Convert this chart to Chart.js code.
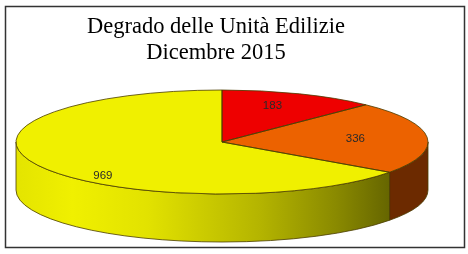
<!DOCTYPE html>
<html>
<head>
<meta charset="utf-8">
<script src="https://cdn.jsdelivr.net/npm/chart.js@4.4.1/dist/chart.umd.min.js"></script>
<style>
  html, body { margin: 0; padding: 0; background: #fff; }
  canvas { display: block; }
</style>
</head>
<body>
<canvas id="degradoChart" width="468" height="254"></canvas>
<script>
// values
const categories = ["Classe 1", "Classe 2", "Classe 3"];
const values = [183, 336, 969];
const titleLines = ["Degrado delle Unità Edilizie", "Dicembre 2015"];

// colours of the top face
const topColors = ["#ee0000", "#ec6200", "#f0f000"];

// where the flattened pie sits on the page
const PIE = { cx: 222, cy: 142, rx: 206, ry: 52, depth: 48 };

function sideFill(ctx, i) {
  if (i === 2) {
    // yellow wall gets lighter on the left, olive on the right
    const g = ctx.createLinearGradient(PIE.cx - PIE.rx, 0, 392, 0);
    g.addColorStop(0, "#e4e400");
    g.addColorStop(0.15, "#f0f000");
    g.addColorStop(0.35, "#e2e200");
    g.addColorStop(0.65, "#b4b400");
    g.addColorStop(0.85, "#8a8a00");
    g.addColorStop(1, "#646400");
    return g;
  }
  if (i === 1) return "#6c2a00";
  return "#7a0000";
}

const pie3d = {
  id: "pie3d",
  beforeDraw(chart) {
    const ctx = chart.ctx;
    ctx.save();
    ctx.fillStyle = "#fff";
    ctx.fillRect(0, 0, chart.width, chart.height);
    ctx.strokeStyle = "#333";
    ctx.lineWidth = 1.5;
    ctx.strokeRect(5.5, 6.5, 459, 241);
    ctx.restore();
  },
  beforeDatasetsDraw(chart) {
    const ctx = chart.ctx;
    const arcs = chart.getDatasetMeta(0).data;
    // side walls, only the front half (0..PI) shows
    ctx.save();
    arcs.forEach((arc, i) => {
      const s = Math.max(arc.startAngle, 0);
      const e = Math.min(arc.endAngle, Math.PI);
      if (e <= s) return;
      ctx.beginPath();
      ctx.ellipse(PIE.cx, PIE.cy, PIE.rx, PIE.ry, 0, s, e);
      ctx.ellipse(PIE.cx, PIE.cy + PIE.depth, PIE.rx, PIE.ry, 0, e, s, true);
      ctx.closePath();
      ctx.fillStyle = sideFill(ctx, i);
      ctx.fill();
      ctx.strokeStyle = "#4a3c00";
      ctx.lineWidth = 0.8;
      ctx.stroke();
    });
    ctx.restore();

    // squash the library's round pie into the ellipse of the top face
    const a = arcs[0];
    ctx.save();
    ctx.translate(PIE.cx, PIE.cy);
    ctx.scale(PIE.rx / a.outerRadius, PIE.ry / a.outerRadius);
    ctx.translate(-a.x, -a.y);
  },
  afterDatasetsDraw(chart) {
    const ctx = chart.ctx;
    ctx.restore();
    const arcs = chart.getDatasetMeta(0).data;
    ctx.save();
    ctx.strokeStyle = "#4a3c00";
    ctx.lineWidth = 0.8;
    arcs.forEach((arc) => {
      ctx.beginPath();
      ctx.moveTo(PIE.cx, PIE.cy);
      ctx.ellipse(PIE.cx, PIE.cy, PIE.rx, PIE.ry, 0, arc.startAngle, arc.endAngle);
      ctx.closePath();
      ctx.stroke();
    });
    // value labels
    ctx.font = "11.5px 'Liberation Sans', Arial, sans-serif";
    ctx.fillStyle = "#2a2a2a";
    ctx.textAlign = "center";
    ctx.textBaseline = "middle";
    arcs.forEach((arc, i) => {
      const mid = (arc.startAngle + arc.endAngle) / 2;
      const sin = Math.sin(mid);
      const x = PIE.cx + 0.65 * PIE.rx * Math.cos(mid);
      const y = PIE.cy + 0.75 * PIE.ry * sin + Math.max(0, sin) * PIE.depth * 0.75;
      ctx.fillText(String(values[i]), x, y);
    });
    ctx.restore();
  }
};

const ctx = document.getElementById("degradoChart").getContext("2d");
new Chart(ctx, {
  type: "pie",
  data: {
    labels: categories,
    datasets: [{
      data: values,
      backgroundColor: topColors,
      borderWidth: 0,
      clip: false
    }]
  },
  options: {
    responsive: false,
    animation: false,
    layout: { padding: { top: 8, right: 36, left: 0, bottom: 0 } },
    plugins: {
      legend: { display: false },
      tooltip: { enabled: false },
      title: {
        display: true,
        text: titleLines,
        color: "#000",
        font: { family: "'Liberation Serif', 'Times New Roman', serif", size: 22.5, weight: "normal", lineHeight: 1.16 },
        padding: { top: 6, bottom: 0 }
      }
    }
  },
  plugins: [pie3d]
});
</script>
</body>
</html>
